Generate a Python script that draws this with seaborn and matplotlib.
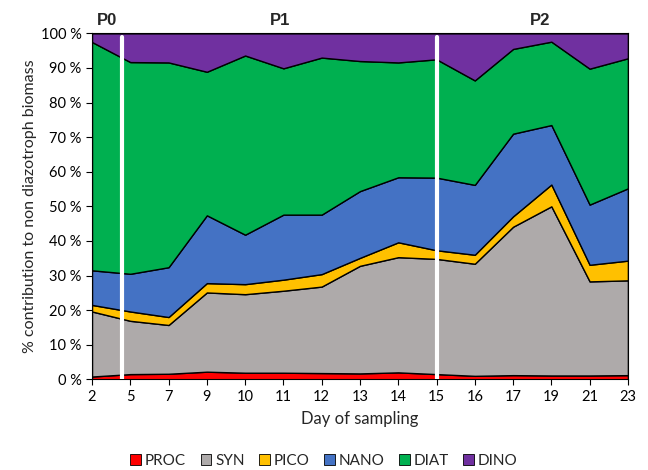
import numpy as np
import pandas as pd
import matplotlib
matplotlib.use('Agg')
import matplotlib.pyplot as plt
from matplotlib.patches import Patch
import seaborn as sns

# ── Data (% of non diazotroph biomass, per group) ─────────
days = ['2', '5', '7', '9', '10', '11', '12', '13', '14', '15', '16', '17', '19', '21', '23']
proc = [0.8, 1.5, 1.6, 2.2, 1.9, 1.9, 1.8, 1.7, 2.0, 1.5, 1.0, 1.2, 1.1, 1.1, 1.2]
syn  = [18.8, 15.4, 14.1, 22.9, 22.7, 23.7, 25.0, 31.1, 33.3, 33.3, 32.4, 42.9, 48.9, 27.2, 27.4]
pico = [1.9, 2.7, 2.3, 2.7, 2.9, 3.2, 3.6, 2.3, 4.3, 2.5, 2.6, 3.0, 6.3, 4.8, 5.7]
nano = [10.0, 10.9, 14.4, 19.6, 14.3, 18.8, 17.2, 19.3, 18.8, 21.0, 20.2, 23.9, 17.2, 17.4, 20.9]
diat = [66.0, 61.2, 59.2, 41.5, 51.8, 42.3, 45.4, 37.6, 33.2, 34.2, 30.2, 24.5, 24.1, 39.3, 37.6]
dino = [2.5, 8.3, 8.4, 11.1, 6.4, 10.1, 7.0, 8.0, 8.4, 7.5, 13.6, 4.5, 2.4, 10.2, 7.2]

groups = ['PROC', 'SYN', 'PICO', 'NANO', 'DIAT', 'DINO']
colors = ['#FF0000', '#AEAAAA', '#FFC000', '#4472C4', '#00B050', '#7030A0']
phases = ['P0', 'P1', 'P2']
phase_pos = [0.4, 4.9, 11.7]
breaks = [0.78, 9.0]

df = pd.DataFrame(dict(zip(groups, [proc, syn, pico, nano, diat, dino])), index=days)

sns.set_style('ticks')
plt.rcParams['font.family'] = ['Lato', 'DejaVu Sans']

fig = plt.figure(figsize=(6.48, 4.70), dpi=100)
ax = fig.add_axes([0.142, 0.193, 0.827, 0.736])

x = np.arange(len(days))
ax.stackplot(x, *[df[g].values for g in groups], colors=colors,
             edgecolor='black', linewidth=1.0)

# phase boundaries
for b in breaks:
    ax.axvline(b, ymin=0, ymax=0.99, color='white', lw=3, zorder=5)

for p, xp in zip(phases, phase_pos):
    ax.text(xp, 101.5, p, ha='center', va='bottom', fontsize=12, fontweight='bold',
            family=['Liberation Sans', 'DejaVu Sans'])

ax.set_xlim(0, len(days) - 1)
ax.set_ylim(0, 100)
ax.set_xticks(x)
ax.set_xticklabels(days)
ax.set_yticks(range(0, 101, 10))
ax.set_yticklabels([f'{v} %' for v in range(0, 101, 10)])
ax.tick_params(axis='both', labelsize=10.5, length=4, width=0.8, colors='black', direction='out')
ax.set_xlabel('Day of sampling', fontsize=12, labelpad=5)
ax.set_ylabel('% contribution to non diazotroph biomass', fontsize=11.5, labelpad=3)
for s in ax.spines.values():
    s.set_color('black'); s.set_linewidth(0.8); s.set_visible(True)

handles = [Patch(facecolor=c, edgecolor='black', linewidth=0.6, label=g) for g, c in zip(groups, colors)]
fig.legend(handles=handles, loc='lower center', bbox_to_anchor=(0.5, -0.025), ncol=6,
           frameon=False, fontsize=11, handlelength=0.7, handleheight=0.7,
           handletextpad=0.25, columnspacing=0.95)

plt.savefig('out.png', dpi=100)
